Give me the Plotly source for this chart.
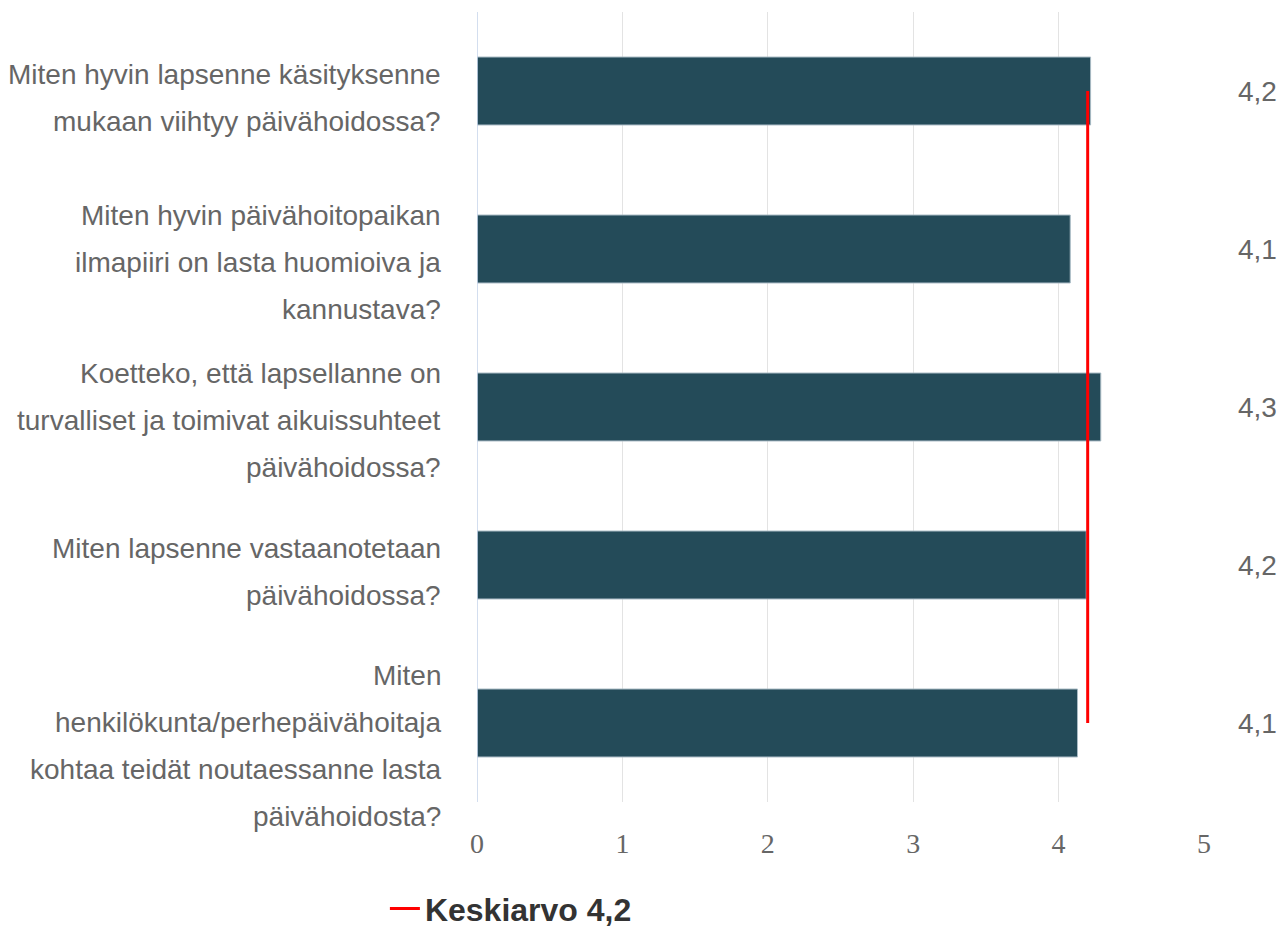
import plotly.graph_objects as go

# survey questions (one list of lines per question, top to bottom)
kysymykset = [
    ["Miten hyvin lapsenne käsityksenne", "mukaan viihtyy päivähoidossa?"],
    ["Miten hyvin päivähoitopaikan", "ilmapiiri on lasta huomioiva ja", "kannustava?"],
    ["Koetteko, että lapsellanne on", "turvalliset ja toimivat aikuissuhteet", "päivähoidossa?"],
    ["Miten lapsenne vastaanotetaan", "päivähoidossa?"],
    ["Miten", "henkilökunta/perhepäivähoitaja", "kohtaa teidät noutaessanne lasta", "päivähoidosta?"],
]
arvot = [4.22, 4.08, 4.29, 4.19, 4.13]
keskiarvo = 4.2
x_ticks = [0, 1, 2, 3, 4, 5]

kategoriat = [" ".join(k) for k in kysymykset]

BAR = "#244b59"
GREY = "#666666"
SANS = "Liberation Sans, Arial, sans-serif"

fig = go.Figure()

fig.add_trace(go.Bar(
    x=arvot,
    y=kategoriat,
    orientation="h",
    width=0.43,
    marker=dict(color=BAR, line=dict(color="#a8bac4", width=1)),
    showlegend=False,
    hoverinfo="x",
))

fig.add_trace(go.Scatter(
    x=[keskiarvo, keskiarvo],
    y=[kategoriat[0], kategoriat[-1]],
    mode="lines",
    line=dict(color="#ff0000", width=3),
    name=f"Keskiarvo {keskiarvo:.1f}".replace(".", ","),
))

# multi-line category labels, drawn line by line for the wide line spacing
line_gap = 47
block_shift = {1: 0, 2: 7, 3: 13, 4: 23}
annotations = []
for kat, rivit in zip(kategoriat, kysymykset):
    n = len(rivit)
    for i, rivi in enumerate(rivit):
        off = (i - (n - 1) / 2) * line_gap + block_shift[n]
        annotations.append(dict(
            xref="paper", yref="y", x=0, y=kat,
            xanchor="right", yanchor="middle",
            xshift=-34, yshift=-off,
            text=rivi, showarrow=False,
            font=dict(family=SANS, size=28, color=GREY),
        ))

# rounded value labels on the right
for kat, v in zip(kategoriat, arvot):
    annotations.append(dict(
        xref="paper", yref="y", x=1, y=kat,
        xanchor="center", yanchor="middle", xshift=53,
        text=f"{v:.1f}".replace(".", ","), showarrow=False,
        font=dict(family=SANS, size=28, color=GREY),
    ))

fig.update_layout(
    width=1269,
    height=921,
    margin=dict(l=469, r=73, t=4, b=127, autoexpand=False),
    paper_bgcolor="white",
    plot_bgcolor="white",
    bargap=0.57,
    annotations=annotations,
    legend=dict(
        orientation="h",
        xref="container", yref="container",
        x=0.297, xanchor="left",
        y=0.022, yanchor="middle",
        font=dict(family=SANS, size=32, color="#333333", weight="bold"),
        itemwidth=30,
    ),
    xaxis=dict(
        range=[0, 5],
        tickvals=x_ticks,
        showgrid=True,
        gridcolor="#e3e3e3",
        gridwidth=1,
        zeroline=False,
        showline=False,
        ticks="",
        ticklabelstandoff=22,
        tickfont=dict(family="Liberation Serif, Times New Roman, serif", size=28, color=GREY),
    ),
    yaxis=dict(
        autorange="reversed",
        showticklabels=False,
        showgrid=False,
        zeroline=False,
        showline=False,
        ticks="",
    ),
    shapes=[dict(
        type="line", xref="x", yref="paper",
        x0=0, x1=0, y0=0, y1=1,
        line=dict(color="#c5d3ea", width=1.5),
    )],
)

fig.write_html("out.html")
